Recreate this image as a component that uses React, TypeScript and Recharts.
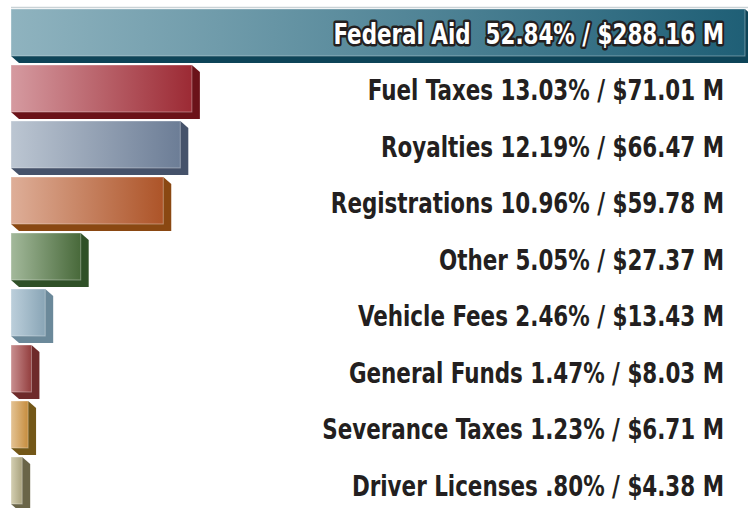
import React from 'react';
import { BarChart, Bar, XAxis, YAxis, LabelList } from 'recharts';

const categories = ['Federal Aid', 'Fuel Taxes', 'Royalties', 'Registrations', 'Other', 'Vehicle Fees', 'General Funds', 'Severance Taxes', 'Driver Licenses'];
const amounts = [288.16, 71.01, 66.47, 59.78, 27.37, 13.43, 8.03, 6.71, 4.38];
const percents = ['52.84%', '13.03%', '12.19%', '10.96%', '5.05%', '2.46%', '1.47%', '1.23%', '.80%'];

const lightColors = ['#8fb3bf', '#d59aa0', '#bcc6d2', '#deae98', '#a3b99b', '#bccfdb', '#c98f90', '#e4c394', '#d4cfb2'];
const darkColors = ['#1f5f76', '#9c2a34', '#6c7d96', '#ad5428', '#48693a', '#89a5b6', '#933e3e', '#c68d3e', '#a9a27e'];
const sideColors = ['#0d4458', '#6b1219', '#45526a', '#8a4812', '#2f5027', '#6b899a', '#6e2a2a', '#735717', '#6a6548'];

const data = categories.map((c, i) => ({
  name: c,
  value: amounts[i],
  label: `${c}${i === 0 ? '  ' : ' '}${percents[i]} / $${amounts[i].toFixed(2)} M`,
}));

const DX = 8;
const DY = 7;

const Bar3D = (props: any) => {
  const { x, y, width, height, index } = props;
  const id = `grad-${index}`;
  const side = sideColors[index];
  const pts = [
    [x, y + height],
    [x + DX, y + height + DY],
    [x + width + DX, y + height + DY],
    [x + width + DX, y + DY],
    [x + width, y],
  ]
    .map((p) => p.join(','))
    .join(' ');
  return (
    <g>
      <defs>
        <linearGradient id={id} x1="0" y1="0" x2="1" y2="0">
          <stop offset="0%" stopColor={lightColors[index]} />
          <stop offset="100%" stopColor={darkColors[index]} />
        </linearGradient>
      </defs>
      <polygon points={pts} fill={side} />
      <rect x={x} y={y} width={width} height={height} fill={`url(#${id})`} stroke="rgba(255,255,255,0.35)" strokeWidth={1} />
      {index === 0 && <line x1={x} x2={x + width + DX} y1={y - 1.5} y2={y - 1.5} stroke="#c9d2d6" strokeWidth={1.5} />}
    </g>
  );
};

const renderLabel = (props: any) => {
  const { y, height, index, value } = props;
  const isFirst = index === 0;
  const baseline = y + height / 2 + 1 + 0.45 * index + 10.5;
  return (
    <text
      transform={`translate(724, ${baseline}) scale(0.822, 1)`}
      x={0}
      y={0}
      textAnchor="end"
      fontFamily="'DejaVu Sans Condensed', 'DejaVu Sans', sans-serif"
      fontWeight="bold"
      fontSize={29}
      fill={isFirst ? '#ffffff' : '#231f20'}
      stroke={isFirst ? '#231f20' : 'none'}
      strokeWidth={isFirst ? 5 : 0}
      strokeLinejoin="round"
      paintOrder="stroke"
      style={{ whiteSpace: 'pre' }}
    >
      {value}
    </text>
  );
};

export default function App() {
  return (
    <div style={{ position: 'absolute', left: 0, top: 0, width: 748, height: 508, background: '#ffffff' }}>
      <BarChart
        width={748}
        height={508}
        data={data}
        layout="vertical"
        margin={{ top: 4, right: 3, bottom: 0, left: 11 }}
        barSize={47}
      >
        <XAxis type="number" dataKey="value" domain={[0, 288.16]} hide />
        <YAxis type="category" dataKey="name" hide />
        <Bar dataKey="value" shape={Bar3D} isAnimationActive={false}>
          <LabelList dataKey="label" content={renderLabel} />
        </Bar>
      </BarChart>
    </div>
  );
}
